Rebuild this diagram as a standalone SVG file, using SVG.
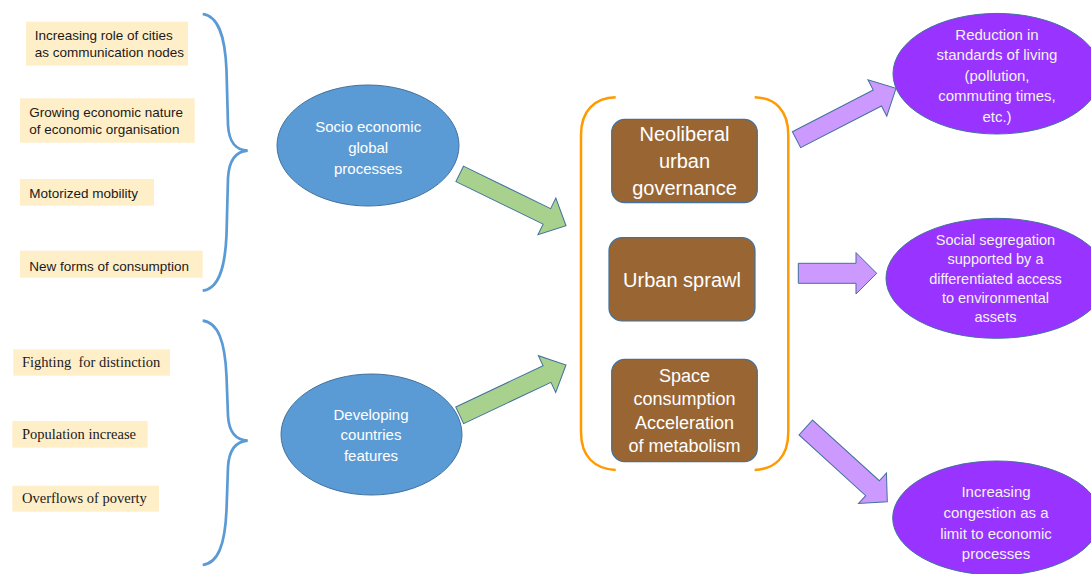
<svg xmlns="http://www.w3.org/2000/svg" width="1091" height="574" viewBox="0 0 1091 574">
<style>
.yb{fill:#FFEFC9;stroke:none}
.st{font-family:"Liberation Sans",Arial,sans-serif;font-size:13.5px;fill:#1a1a1a}
.se{font-family:"Liberation Serif","Times New Roman",serif;font-size:14.5px;fill:#1a1a1a}
.brace{fill:none;stroke:#5B9BD5;stroke-width:2.7}
.bracket{fill:none;stroke:#FF9A00;stroke-width:2.5}
.blue{fill:#5B9BD5;stroke:#41719C;stroke-width:1}
.brown{fill:#996633;stroke:#41719C;stroke-width:1.2}
.purple{fill:#9933FF;stroke:#41719C;stroke-width:1}
.wt{font-family:"Liberation Sans",Arial,sans-serif;fill:#fff;text-anchor:middle}
.pt{font-family:"Liberation Sans",Arial,sans-serif;fill:#F2F2F2;text-anchor:middle}
.ga{fill:#A9D18E;stroke:#41719C;stroke-width:1}
.pa{fill:#CC99FF;stroke:#41719C;stroke-width:1}
</style>
<rect width="1091" height="574" fill="#fff"/>

<g id="factor-cities"><rect class="yb" x="26" y="21.7" width="162" height="44"/><text class="st" x="34.7" y="40">Increasing role of cities</text><text class="st" x="34.7" y="57.3">as communication nodes</text></g>
<g id="factor-economic"><rect class="yb" x="20" y="98.3" width="174.7" height="44.4"/><text class="st" x="29.3" y="116.7">Growing economic nature</text><text class="st" x="29.3" y="134">of economic organisation</text></g>
<g id="factor-mobility"><rect class="yb" x="20" y="179" width="134" height="26.7"/><text class="st" x="29.3" y="198.3">Motorized mobility</text></g>
<g id="factor-consumption"><rect class="yb" x="20" y="250.7" width="182.7" height="27"/><text class="st" x="29.3" y="270.7">New forms of consumption</text></g>

<g id="factor-distinction"><rect class="yb" x="13.3" y="349.3" width="156.7" height="26.4"/><text class="se" x="22" y="367.3" xml:space="preserve">Fighting  for distinction</text></g>
<g id="factor-population"><rect class="yb" x="12.3" y="421" width="135.4" height="26.7"/><text class="se" x="22" y="439.3">Population increase</text></g>
<g id="factor-poverty"><rect class="yb" x="12.3" y="485.7" width="146.7" height="26"/><text class="se" x="22" y="503.3">Overflows of poverty</text></g>

<g id="brace-top"><path class="brace" d="M202.7,14 C218,16 225,35 226.5,70 L228,125 C229,143 236,150 247.7,150.7 C236,151.5 229,160 228,178 L226.5,235 C225,270 218,289 202.7,290.7"/></g>
<g id="brace-bottom"><path class="brace" d="M202.7,320.7 C218,322.7 225,341 226.5,376 L228,416 C229,433 236,440 247.7,440.7 C236,441.5 229,450 228,467 L226.5,510 C225,545 218,563 202.7,565"/></g>

<g id="socio-economic"><ellipse class="blue" cx="368" cy="145.5" rx="91" ry="60.5"/>
<text class="wt" font-size="15" x="368.2" y="131.5">Socio economic</text><text class="wt" font-size="15" x="368.2" y="152.5">global</text><text class="wt" font-size="15" x="368.2" y="173.5">processes</text></g>
<g id="developing"><ellipse class="blue" cx="371.5" cy="434.5" rx="90.5" ry="60.5"/>
<text class="wt" font-size="15" x="371" y="420.3">Developing</text><text class="wt" font-size="15" x="371" y="440.3">countries</text><text class="wt" font-size="15" x="371" y="461">features</text></g>

<g id="bracket"><path class="bracket" d="M615.7,97.3 C595,98 581,110 581,135 L581,432 C581,457 595,469 615.7,470"/><path class="bracket" d="M754.7,97.3 C775,98 788.3,110 788.3,135 L788.3,432 C788.3,457 775,469 754.7,470"/></g>

<g id="neoliberal"><rect class="brown" x="611.7" y="119.3" width="145.6" height="83.4" rx="13"/>
<text class="wt" font-size="20" x="684.5" y="141.3">Neoliberal</text><text class="wt" font-size="20" x="684.5" y="168">urban</text><text class="wt" font-size="20" x="684.5" y="194.7">governance</text></g>
<g id="sprawl"><rect class="brown" x="609" y="237.7" width="146" height="83.3" rx="13"/>
<text class="wt" font-size="20" x="682" y="287">Urban sprawl</text></g>
<g id="space"><rect class="brown" x="611.7" y="359.3" width="145.6" height="102.4" rx="13"/>
<text class="wt" font-size="18" x="684.5" y="381.5">Space</text><text class="wt" font-size="18" x="684.5" y="405">consumption</text><text class="wt" font-size="18" x="684.5" y="428.5">Acceleration</text><text class="wt" font-size="18" x="684.5" y="452">of metabolism</text></g>

<g id="reduction"><ellipse class="purple" cx="997" cy="73.7" rx="104" ry="60.3"/>
<text class="pt" font-size="15" x="997" y="39.6">Reduction in</text><text class="pt" font-size="15" x="997" y="60.1">standards of living</text><text class="pt" font-size="15" x="997" y="80.6">(pollution,</text><text class="pt" font-size="15" x="997" y="101.1">commuting times,</text><text class="pt" font-size="15" x="997" y="121.6">etc.)</text></g>
<g id="segregation"><ellipse class="purple" cx="996.5" cy="278.3" rx="110.5" ry="60"/>
<text class="pt" font-size="14.5" x="995.5" y="245.1">Social segregation</text><text class="pt" font-size="14.5" x="995.5" y="264.3">supported by a</text><text class="pt" font-size="14.5" x="995.5" y="283.5">differentiated access</text><text class="pt" font-size="14.5" x="995.5" y="302.7">to environmental</text><text class="pt" font-size="14.5" x="995.5" y="321.9">assets</text></g>
<g id="congestion"><ellipse class="purple" cx="996.7" cy="518" rx="104" ry="57"/>
<text class="pt" font-size="15" x="996" y="497.3">Increasing</text><text class="pt" font-size="15" x="996" y="518">congestion as a</text><text class="pt" font-size="15" x="996" y="538.6">limit to economic</text><text class="pt" font-size="15" x="996" y="559.3">processes</text></g>

<g id="connectors">
<polygon class="ga" transform="translate(459.7,173.9) rotate(26)" points="0,-8.6 97,-8.6 97,-20.4 118.3,0 97,20.4 97,8.6 0,8.6"/>
<polygon class="ga" transform="translate(459.7,415.3) rotate(-25.3)" points="0,-9.2 96.6,-9.2 96.6,-20.3 117.6,0 96.6,20.3 96.6,9.2 0,9.2"/>
<polygon class="pa" transform="translate(796.5,139.7) rotate(-27.3)" points="0,-9 91,-9 91,-20.5 112,0 91,20.5 91,9 0,9"/>
<polygon class="pa" transform="translate(798.3,273.3)" points="0,-10 57.7,-10 57.7,-20.7 78.4,0 57.7,20.7 57.7,10 0,10"/>
<polygon class="pa" transform="translate(805.8,427.5) rotate(42.3)" points="0,-10.1 90.2,-10.1 90.2,-20.7 110.2,0 90.2,20.7 90.2,10.1 0,10.1"/>
</g>
</svg>
